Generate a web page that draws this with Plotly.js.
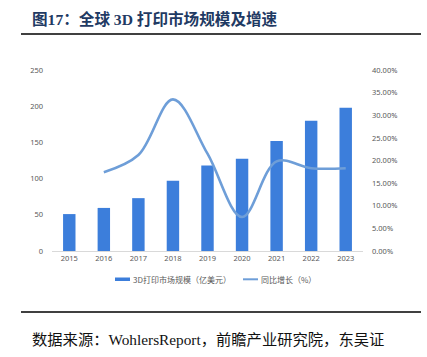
<!DOCTYPE html>
<html>
<head>
<meta charset="utf-8">
<script src="https://cdn.plot.ly/plotly-3.0.1.min.js"></script>
<style>
html,body{margin:0;padding:0;background:#fff;}
#chart{width:427px;height:357px;}
</style>
</head>
<body>
<div id="chart"></div>
<script>
const years = ['2015','2016','2017','2018','2019','2020','2021','2022','2023'];
const marketSize = [51, 59.5, 73, 97, 118, 127.5, 152, 180, 198];
const growthYears = ['2016','2017','2018','2019','2020','2021','2022','2023'];
const growthRate = [0.174, 0.212, 0.335, 0.215, 0.075, 0.198, 0.183, 0.183];
const leftTicks = [0, 50, 100, 150, 200, 250];
const rightTicks = [0, 0.05, 0.10, 0.15, 0.20, 0.25, 0.30, 0.35, 0.40];
const seriesNames = ['3D打印市场规模（亿美元）', '同比增长（%）'];
const barColor = '#3c7edb';
const lineColor = '#6e9ed8';

const W = 427, H = 357;
const M = {l: 52, r: 64, t: 70, b: 106};
const pw = W - M.l - M.r, ph = H - M.t - M.b;
const px = x => (x - M.l) / pw;
const py = y => (H - M.b - y) / ph;

const tickFont = {family: 'Noto Sans, DejaVu Sans, sans-serif', size: 7.5, color: '#595959'};
const legendFont = {family: 'Noto Sans CJK SC, sans-serif', size: 8, color: '#595959'};

const traces = [
  {
    type: 'bar', x: years, y: marketSize, name: seriesNames[0],
    marker: {color: barColor}, width: 0.36, yaxis: 'y'
  },
  {
    type: 'scatter', mode: 'lines', x: growthYears, y: growthRate, name: seriesNames[1],
    line: {color: lineColor, width: 2.6, shape: 'spline', smoothing: 1.0}, yaxis: 'y2'
  }
];

const serif = 'Liberation Serif, Noto Sans CJK SC, serif';

const layout = {
  width: W, height: H,
  margin: M,
  paper_bgcolor: '#fff', plot_bgcolor: '#fff',
  showlegend: false,
  xaxis: {
    type: 'category', tickfont: tickFont, showgrid: false,
    showline: true, linecolor: '#d9d9d9', linewidth: 1, ticks: '', zeroline: false,
    range: [-0.5, 8.5]
  },
  yaxis: {
    range: [0, 250], tickvals: leftTicks, tickfont: tickFont,
    showgrid: false, zeroline: false, showline: false, ticks: '', ticklabelstandoff: 8
  },
  yaxis2: {
    overlaying: 'y', side: 'right', range: [0, 0.4], tickvals: rightTicks,
    tickformat: '.2%', tickfont: tickFont, showgrid: false, zeroline: false,
    showline: false, ticks: '', ticklabelstandoff: 8
  },
  shapes: [
    {type: 'line', xref: 'paper', yref: 'paper', x0: px(21), x1: px(421), y0: py(34), y1: py(34),
     line: {color: '#000', width: 1.5}},
    {type: 'line', xref: 'paper', yref: 'paper', x0: px(21), x1: px(421), y0: py(312), y1: py(312),
     line: {color: '#000', width: 1.5}},
    // legend symbols
    {type: 'rect', xref: 'paper', yref: 'paper', x0: px(115), x1: px(130), y0: py(281), y1: py(277.5),
     fillcolor: barColor, line: {width: 0}},
    {type: 'line', xref: 'paper', yref: 'paper', x0: px(243), x1: px(258), y0: py(279.3), y1: py(279.3),
     line: {color: lineColor, width: 2}}
  ],
  annotations: [
    {xref: 'paper', yref: 'paper', x: px(30), y: py(19), xanchor: 'left', yanchor: 'middle',
     text: '<b>图17：全球 3D 打印市场规模及增速</b>', showarrow: false,
     font: {family: serif, size: 15.6, color: '#1f3a63'}},
    {xref: 'paper', yref: 'paper', x: px(30), y: py(339), xanchor: 'left', yanchor: 'middle',
     text: '数据来源：WohlersReport，前瞻产业研究院，东吴证', showarrow: false,
     font: {family: serif, size: 15.3, color: '#111'}},
    {xref: 'paper', yref: 'paper', x: px(131), y: py(279.5), xanchor: 'left', yanchor: 'middle',
     text: seriesNames[0], showarrow: false, font: legendFont},
    {xref: 'paper', yref: 'paper', x: px(259), y: py(279.5), xanchor: 'left', yanchor: 'middle',
     text: seriesNames[1], showarrow: false, font: legendFont}
  ]
};

Plotly.newPlot('chart', traces, layout, {displayModeBar: false, staticPlot: true});
</script>
</body>
</html>
